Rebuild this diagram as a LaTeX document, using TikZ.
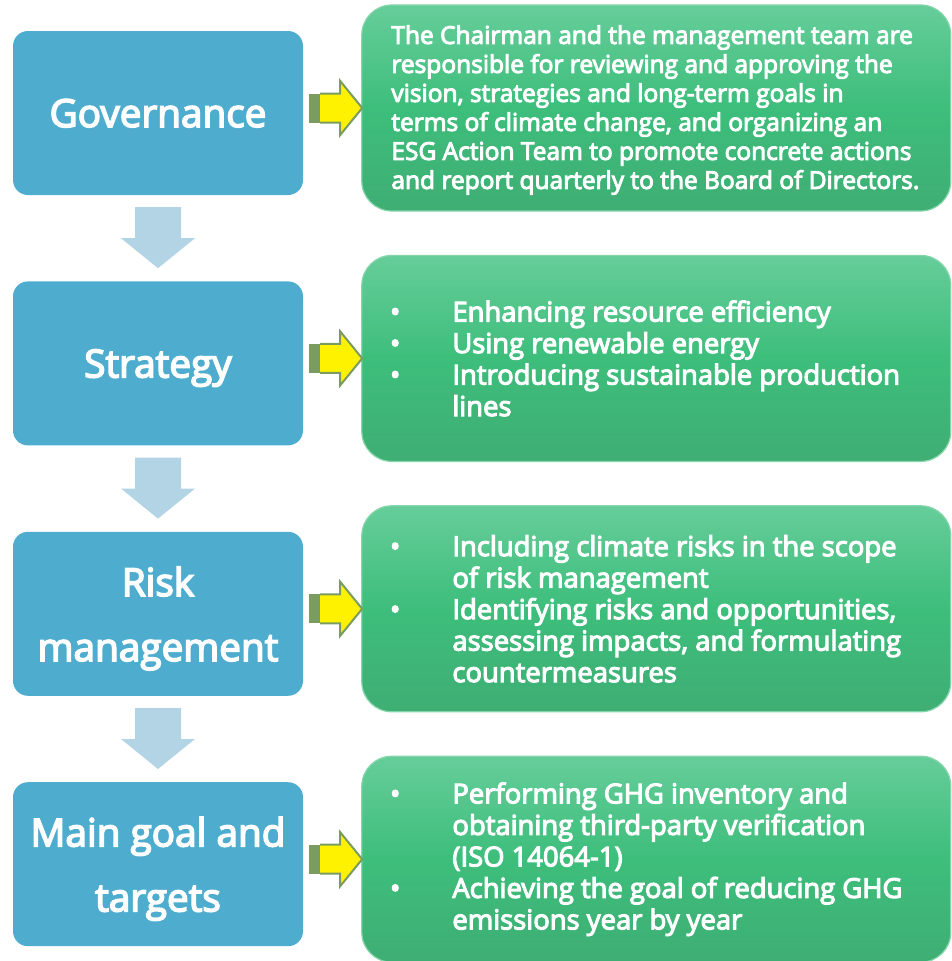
\documentclass[tikz,border=0pt]{standalone}
\usepackage{fontspec}
\setmainfont{Open Sans}
\newfontfamily\semibold{Open Sans}[FakeBold=4]
\usetikzlibrary{positioning}

\definecolor{stageblue}{HTML}{4EADCF}
\definecolor{flowblue}{HTML}{B2D4E5}
\definecolor{greentop}{HTML}{66CD9A}
\definecolor{greenmid}{HTML}{3DBE7B}
\definecolor{greenbot}{HTML}{3FAE74}
\definecolor{greenedge}{HTML}{86D6AC}
\definecolor{pointolive}{HTML}{7A9C60}

\tikzset{
  stagebox/.style={fill=stageblue, rounded corners=15pt, minimum width=290pt, minimum height=164pt,
    text depth=0pt, text=white, align=center, font=\fontsize{38.7}{65}\selectfont\semibold},
  infobox/.style={rounded corners=30pt, minimum width=589pt, minimum height=206pt,
    top color=greentop, bottom color=greenbot, middle color=greenmid, draw=greenedge, line width=1.2pt},
  infotext/.style={text=white, align=left, inner sep=0pt, anchor=west, font=\fontsize{24.5}{29}\selectfont\semibold},
  itemtext/.style={infotext, font=\fontsize{27.4}{31.5}\selectfont\semibold},
}
\newcommand{\itm}{\llap{\textbullet\hspace{52pt}}}

\begin{document}
\begin{tikzpicture}[x=1pt, y=-1pt]
  \useasboundingbox (0,0) rectangle (951,961);

  % left column: the four stages
  \node[stagebox] (gov) at (158,113) {Governance};
  \node[stagebox, below=86pt of gov] (strat) {Strategy};
  \node[stagebox, below=86pt of strat] (risk) {Risk\\management};
  \node[stagebox, below=86pt of risk] (goal) {Main goal and\\targets};

  % right column: what each stage covers
  \node[infobox, right=58pt of gov, yshift=5pt] (gov-info) {};
  \node[infobox, right=58pt of strat, yshift=5pt] (strat-info) {};
  \node[infobox, right=58pt of risk, yshift=5pt] (risk-info) {};
  \node[infobox, right=58pt of goal, yshift=5pt] (goal-info) {};

  \node[infotext] (gov-txt) at ([xshift=30pt, yshift=-2pt]gov-info.west)
    {The Chairman and the management team are\\responsible for reviewing and approving the\\vision, strategies and long-term goals in\\terms of climate change, and organizing an\\ESG Action Team to promote concrete actions\\and report quarterly to the Board of Directors.};
  \node[itemtext] (strat-txt) at ([xshift=91pt]strat-info.west)
    {\itm Enhancing resource efficiency\\\itm Using renewable energy\\\itm Introducing sustainable production\\lines};
  \node[itemtext] (risk-txt) at ([xshift=91pt]risk-info.west)
    {\itm Including climate risks in the scope\\of risk management\\\itm Identifying risks and opportunities,\\assessing impacts, and formulating\\countermeasures};
  \node[itemtext] (goal-txt) at ([xshift=91pt]goal-info.west)
    {\itm Performing GHG inventory and\\obtaining third-party verification\\(ISO 14064-1)\\\itm Achieving the goal of reducing GHG\\emissions year by year};

  % down arrows between the stages
  \foreach \a in {gov, strat, risk}{
    \begin{scope}[shift={(\a.south)}]
      \fill[flowblue] (-23,12) -- (23,12) -- (23,43) -- (37,43) -- (0,73) -- (-37,43) -- (-23,43) -- cycle;
    \end{scope}
  }

  % yellow pointers into the green boxes
  \foreach \g in {gov-info, strat-info, risk-info, goal-info}{
    \begin{scope}[shift={(\g.west)}]
      \fill[pointolive] (-52,-14.5) rectangle (-41,14.5);
      \draw[pointolive, fill=yellow, line width=2pt, line join=miter]
        (-41,-14.5) -- (-21,-14.5) -- (-21,-27) -- (1,0) -- (-21,27) -- (-21,14.5) -- (-41,14.5);
    \end{scope}
  }
\end{tikzpicture}
\end{document}
